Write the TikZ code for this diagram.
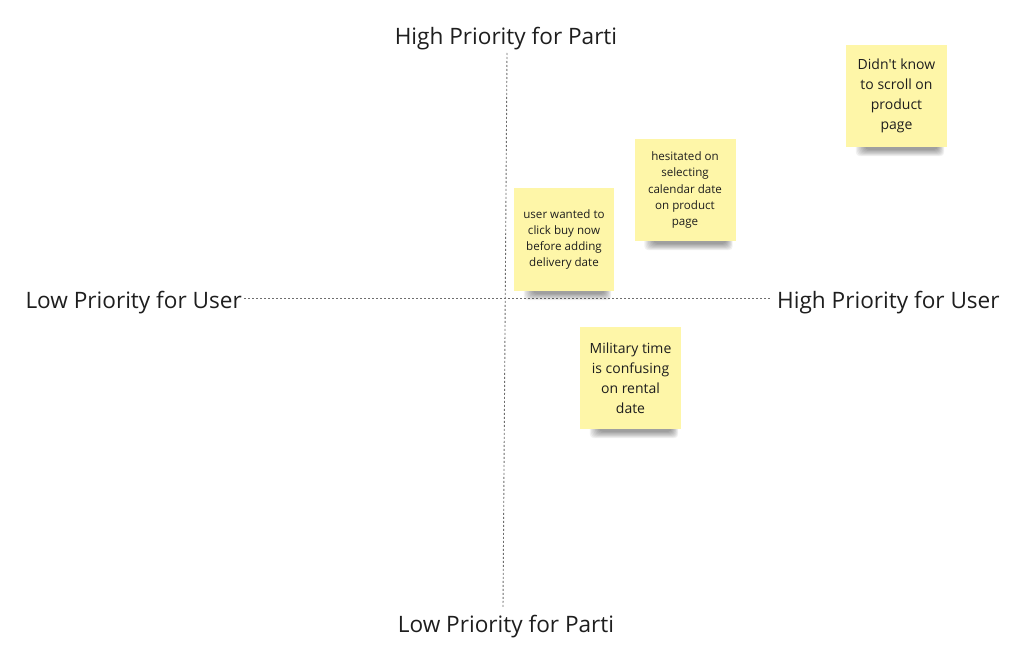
\documentclass[tikz,border=0pt]{standalone}
\usepackage{fontspec}
\setmainfont{Open Sans}
\definecolor{sticky}{HTML}{FEF6A8}
\definecolor{inkc}{HTML}{1E1E1E}
\definecolor{axisc}{HTML}{6E6E6E}
\tikzset{
  axislabel/.style={font=\fontsize{22.6}{26}\selectfont, text=inkc, inner sep=0pt},
  axisline/.style={draw=axisc, line width=0.9pt, dash pattern=on 2pt off 2pt},
  note/.style={fill=sticky, minimum width=101pt, minimum height=102pt, inner sep=0pt,
    align=center, text=inkc},
  smallnote/.style={note, font=\fontsize{11.6}{16.3}\selectfont},
  bignote/.style={note, font=\fontsize{14}{20}\selectfont},
  shadowlayer/.style={fill=black, fill opacity=0.055, rounded corners=4pt},
}
% soft shadow under a note: #1 = node name
\newcommand{\noteshadow}[1]{%
  \foreach \k in {0,1,2,3,4,5,6,7} {
    \fill[shadowlayer]
      ([xshift={10pt+\k*1.3pt}, yshift=8pt]#1.south west)
      rectangle ([xshift={-3pt-\k*0.9pt}, yshift={-9pt+\k*0.9pt}]#1.south east);
  }%
}
\begin{document}
\begin{tikzpicture}[x=1pt,y=-1pt]
\useasboundingbox[fill=white] (0,0) rectangle (1013,661);
% axis labels
\node[axislabel, anchor=base] (top) at (506,45) {High Priority for Parti};
\node[axislabel, anchor=base] (bottom) at (506,632) {Low Priority for Parti};
\node[axislabel, anchor=base east] (left) at (242,308) {Low Priority for User};
\node[axislabel, anchor=base west] (right) at (777,308) {High Priority for User};
% axes
\coordinate (vt) at (507,53);
\coordinate (vb) at (503,608);
\coordinate (hl) at (244,298);
\coordinate (hr) at (770,298);
\draw[axisline] (vt) -- (vb);
\draw[axisline] (hl) -- (hr);
% sticky note positions (shadows first, then notes on top)
\path (564,239.5) coordinate (p1) (685,190) coordinate (p2)
      (896.5,96) coordinate (p3) (630.5,378) coordinate (p4);
\begin{scope}
  \path node[note, minimum width=100pt, minimum height=103pt, fill=none] (s1) at (p1) {}
        node[note, fill=none] (s2) at (p2) {}
        node[note, fill=none] (s3) at (p3) {}
        node[note, fill=none] (s4) at (p4) {};
  \noteshadow{s1}\noteshadow{s2}\noteshadow{s3}\noteshadow{s4}
\end{scope}
\node[smallnote, minimum width=100pt, minimum height=103pt] (n1) at (p1)
  {user wanted to\\click buy now\\before adding\\delivery date};
\node[smallnote] (n2) at (p2)
  {hesitated on\\selecting\\calendar date\\on product\\page};
\node[bignote] (n3) at (p3)
  {Didn\textquotesingle t know\\to scroll on\\product\\page};
\node[bignote] (n4) at (p4)
  {Military time\\is confusing\\on rental\\date};
\end{tikzpicture}
\end{document}
